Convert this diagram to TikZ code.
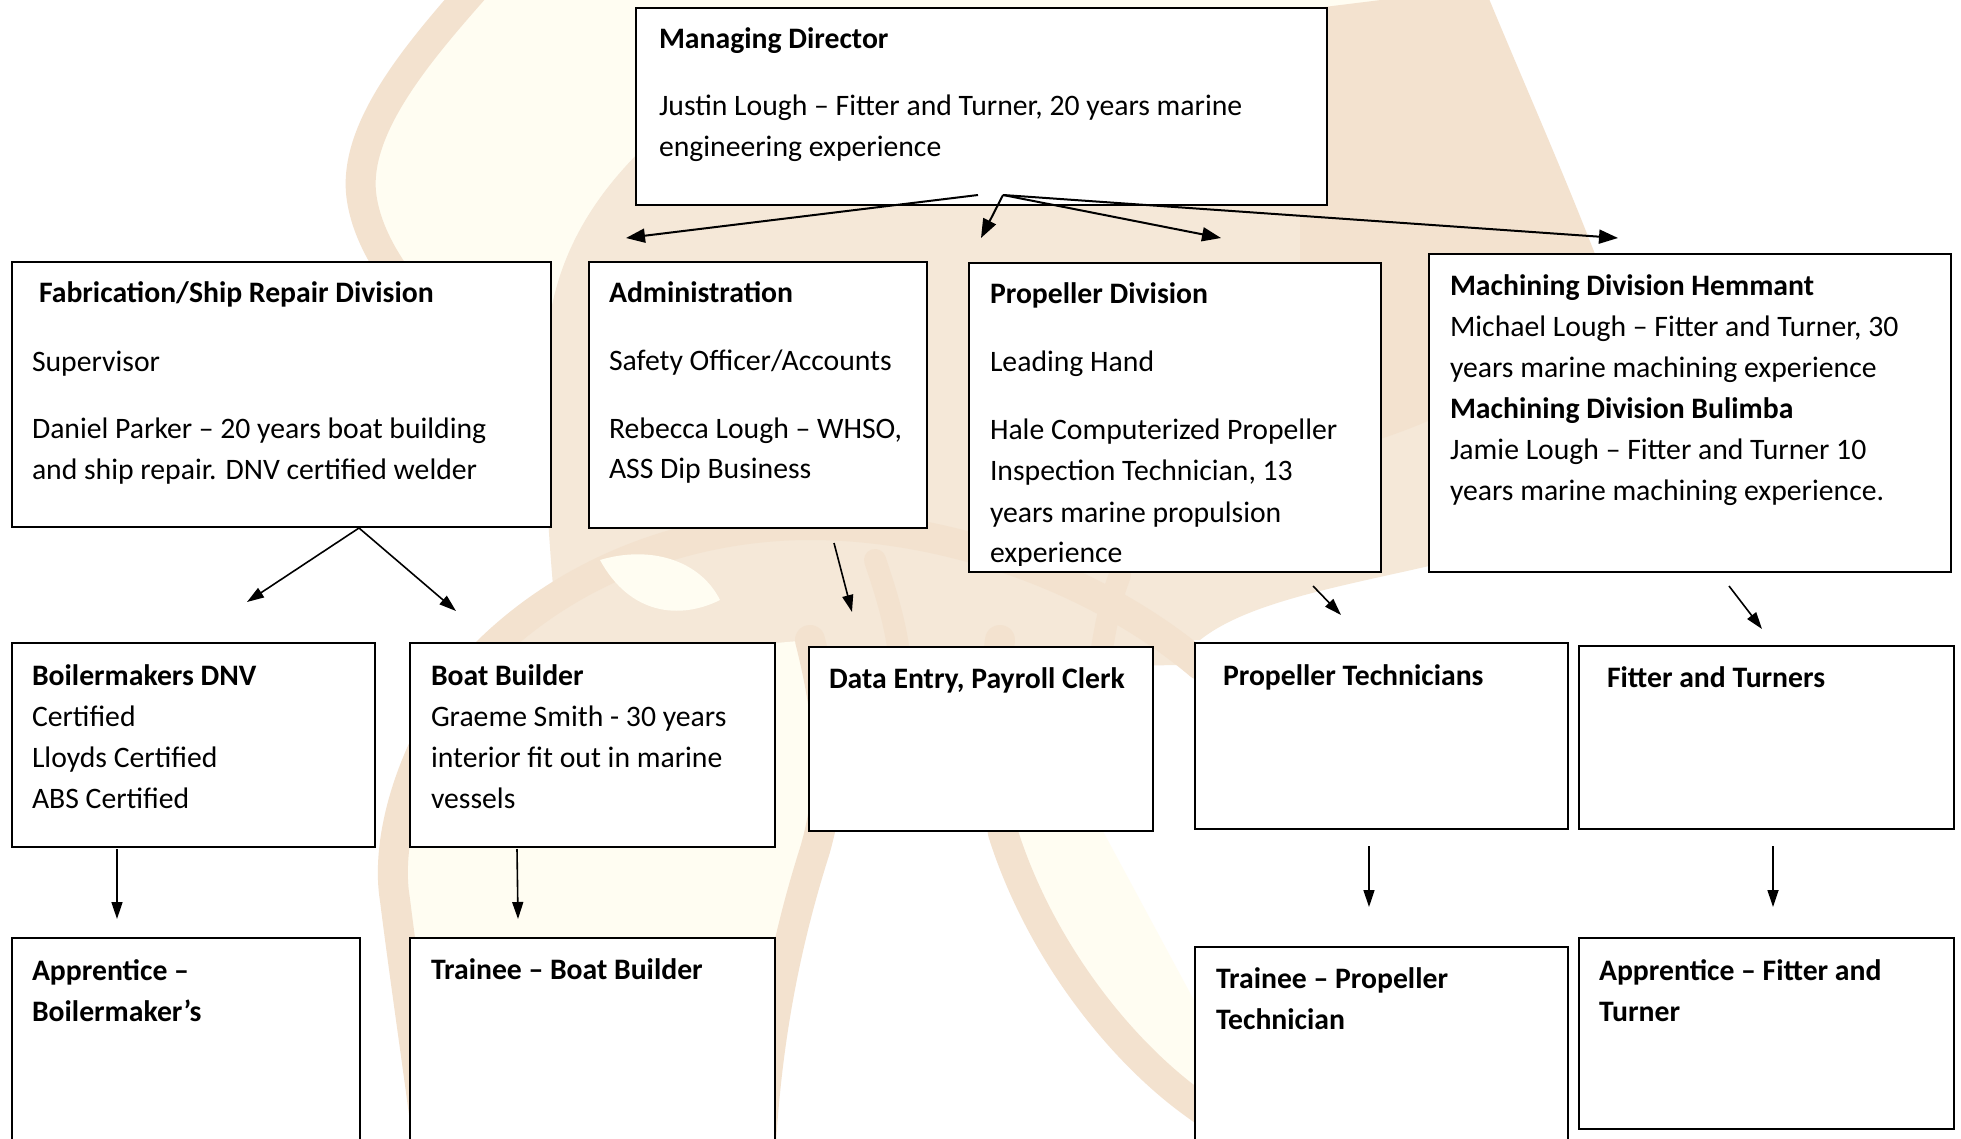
\documentclass[tikz,border=0pt]{standalone}
\usepackage{fontspec}
\setmainfont{Carlito}
\usetikzlibrary{arrows.meta}
\definecolor{wmA}{HTML}{F3E2CF}
\definecolor{wmB}{HTML}{F5E8D8}
\definecolor{wmC}{HTML}{FFFDF2}
\newcommand\tline[1]{\hbox{#1}}
\newcommand\tgap[1]{\vskip#1pt}
\tikzset{
  orgbox/.style={draw=black, line width=2pt, fill=white, inner sep=0pt, outer sep=0pt, anchor=north west},
  txt/.style={anchor=base west, inner sep=0pt, outer sep=0pt, font=\fontsize{29.7}{41}\selectfont},
  toparrow/.style={line width=2pt, -{Triangle[length=19pt,width=14pt]}},
  subarrow/.style={line width=1.6pt, -{Triangle[length=17pt,width=11pt]}},
  band/.style={draw=wmA, line width=30pt, line cap=round, line join=round},
}
\begin{document}
\begin{tikzpicture}[x=1pt,y=-1pt]
\useasboundingbox (0,0) rectangle (1961,1139);
\fill[white] (0,0) rectangle (1961,1139);
% ---------- watermark ----------
\begin{scope}
\clip (0,0) rectangle (1961,1139);
\filldraw[fill=wmC, band] (482,-20) .. controls (420,50) and (350,130) .. (362,200) .. controls (375,280) and (470,370) .. (600,445) .. controls (700,500) and (880,525) .. (1050,520) .. controls (1250,510) and (1500,420) .. (1600,310) .. controls (1560,200) and (1510,90) .. (1465,-20) -- cycle;
\fill[wmB] (700,100) .. controls (620,160) and (560,230) .. (548,330) .. controls (540,450) and (550,560) .. (560,660) -- (1200,640) .. controls (1250,600) and (1350,585) .. (1455,560) -- (1445,100) -- cycle;
\fill[wmA] (1300,10) -- (1462,-10) .. controls (1505,90) and (1555,200) .. (1598,308) .. controls (1500,400) and (1400,440) .. (1300,460) -- cycle;
\filldraw[fill=wmB, band] (470,670) .. controls (560,570) and (690,525) .. (810,525) .. controls (950,525) and (1100,580) .. (1200,665);
\filldraw[fill=wmC, band] (470,670) .. controls (410,750) and (385,840) .. (395,900) .. controls (405,980) and (420,1080) .. (430,1160) -- (760,1160) .. controls (765,1060) and (780,960) .. (815,850) .. controls (835,780) and (830,720) .. (810,640);
\filldraw[fill=wmC, band] (1000,640) .. controls (990,720) and (995,780) .. (1003,833) .. controls (1040,950) and (1120,1050) .. (1193,1103) .. controls (1230,1130) and (1260,1150) .. (1280,1160);
\draw[band, line width=22pt] (875,560) .. controls (885,590) and (895,620) .. (900,660);
\draw[band, line width=22pt] (1120,575) .. controls (1110,600) and (1105,630) .. (1100,660);
\fill[wmC] (600,560) .. controls (650,545) and (700,560) .. (720,600) .. controls (680,620) and (630,615) .. (600,560) -- cycle;
\end{scope}
% ---------- boxes ----------
\node[orgbox, minimum width=691pt, minimum height=197pt] (md) at (636,8) {};
\node[orgbox, minimum width=539pt, minimum height=265pt] (fab) at (12,262) {};
\node[orgbox, minimum width=338pt, minimum height=266pt] (adm) at (589,262) {};
\node[orgbox, minimum width=412pt, minimum height=309pt] (prop) at (969,263) {};
\node[orgbox, minimum width=522pt, minimum height=318pt] (mach) at (1429,254) {};
\node[orgbox, minimum width=363pt, minimum height=204pt] (boil) at (12,643) {};
\node[orgbox, minimum width=365pt, minimum height=204pt] (boat) at (410,643) {};
\node[orgbox, minimum width=344pt, minimum height=184pt] (data) at (809,647) {};
\node[orgbox, minimum width=373pt, minimum height=186pt] (ptech) at (1195,643) {};
\node[orgbox, minimum width=375pt, minimum height=183pt] (fitt) at (1579,646) {};
\node[orgbox, minimum width=348pt, minimum height=230pt] (appb) at (12,938) {};
\node[orgbox, minimum width=365pt, minimum height=230pt] (trbb) at (410,938) {};
\node[orgbox, minimum width=373pt, minimum height=220pt] (trpt) at (1195,947) {};
\node[orgbox, minimum width=375pt, minimum height=191pt] (appf) at (1579,938) {};
% ---------- texts ----------
\node[txt] (mdT) at (659,49) {\vtop{\tline{\textbf{Managing Director}}\tgap{26}\tline{Justin Lough – Fitter and Turner, 20 years marine}\tline{engineering experience}}};
\node[txt] (fabT) at (39,303) {\textbf{Fabrication/Ship Repair Division}};
\node[txt] (fabB) at (32,371) {\vtop{\tline{Supervisor}\tgap{26}\tline{Daniel Parker – 20 years boat building}\tline{and ship repair. DNV certified welder}}};
\node[txt] (admT) at (609,303) {\vtop{\tline{\textbf{Administration}}\tgap{27}\tline{Safety Officer/Accounts}\tgap{26}\tline{Rebecca Lough – WHSO,}\tline{ASS Dip Business}}};
\begin{scope}
\clip (971,265) rectangle (1379,565);
\node[txt] (propT) at (990,304) {\vtop{\tline{\textbf{Propeller Division}}\tgap{27}\tline{Leading Hand}\tgap{27}\tline{Hale Computerized Propeller}\tline{Inspection Technician, 13}\tline{years marine propulsion}\tline{experience}}};
\end{scope}
\node[txt] (machT) at (1450,296) {\vtop{\tline{\textbf{Machining Division Hemmant}}\tline{Michael Lough – Fitter and Turner, 30}\tline{years marine machining experience}\tline{\textbf{Machining Division Bulimba}}\tline{Jamie Lough – Fitter and Turner 10}\tline{years marine machining experience.}}};
\node[txt] (boilT) at (32,685) {\vtop{\tline{\textbf{Boilermakers DNV}}\tline{Certified}\tline{Lloyds Certified}\tline{ABS Certified}}};
\node[txt] (boatT) at (431,685) {\vtop{\tline{\textbf{Boat Builder}}\tline{Graeme Smith - 30 years}\tline{interior fit out in marine}\tline{vessels}}};
\node[txt] (dataT) at (829,688) {\textbf{Data Entry, Payroll Clerk}};
\node[txt] (ptechT) at (1223,685) {\textbf{Propeller Technicians}};
\node[txt] (fittT) at (1607,687) {\textbf{Fitter and Turners}};
\node[txt] (appbT) at (32,980) {\vtop{\tline{\textbf{Apprentice –}}\tline{\textbf{Boilermaker’s}}}};
\node[txt] (trbbT) at (431,979) {\textbf{Trainee – Boat Builder}};
\node[txt] (trptT) at (1216,988) {\vtop{\tline{\textbf{Trainee – Propeller}}\tline{\textbf{Technician}}}};
\node[txt] (appfT) at (1599,980) {\vtop{\tline{\textbf{Apprentice – Fitter and}}\tline{\textbf{Turner}}}};
% ---------- connector end points ----------
\coordinate (mdA) at (978,195);
\coordinate (mdB) at (1003,195);
\coordinate (toAdm) at (626,238);
\coordinate (toProp) at (981,238);
\coordinate (toPtech) at (1221,238);
\coordinate (toMach) at (1618,238);
\coordinate (fabS) at (359,528);
\coordinate (toBoil) at (247,602);
\coordinate (toBoat) at (456,611);
\coordinate (admS) at (834,543);
\coordinate (toData) at (852,612);
\coordinate (propS) at (1313,586);
\coordinate (toPtechB) at (1341,615);
\coordinate (machS) at (1729,586);
\coordinate (toFitt) at (1762,629);
\coordinate (boilS) at (117,849);
\coordinate (toAppb) at (117,919);
\coordinate (boatS) at (517,849);
\coordinate (toTrbb) at (518,919);
\coordinate (ptechS) at (1369,846);
\coordinate (toTrpt) at (1369,907);
\coordinate (fittS) at (1773,846);
\coordinate (toAppf) at (1773,907);
% ---------- connectors ----------
\draw[toparrow] (mdA) -- (toAdm);
\draw[toparrow] (mdB) -- (toProp);
\draw[toparrow] (mdB) -- (toPtech);
\draw[toparrow] (mdB) -- (toMach);
\draw[subarrow] (fabS) -- (toBoil);
\draw[subarrow] (fabS) -- (toBoat);
\draw[subarrow] (admS) -- (toData);
\draw[subarrow] (propS) -- (toPtechB);
\draw[subarrow] (machS) -- (toFitt);
\draw[subarrow] (boilS) -- (toAppb);
\draw[subarrow] (boatS) -- (toTrbb);
\draw[subarrow] (ptechS) -- (toTrpt);
\draw[subarrow] (fittS) -- (toAppf);
\end{tikzpicture}
\end{document}
